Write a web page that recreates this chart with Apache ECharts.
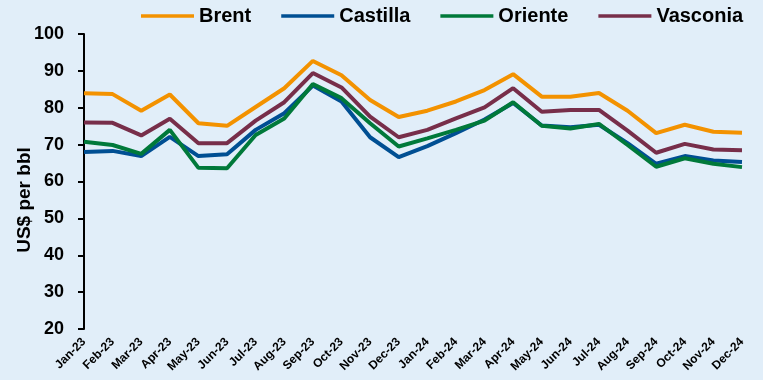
<!DOCTYPE html>
<html>
<head>
<meta charset="utf-8">
<script src="https://cdn.jsdelivr.net/npm/echarts@6/dist/echarts.min.js"></script>
<style>
  html, body { margin: 0; padding: 0; background: #E1EEF9; }
  #chart { width: 763px; height: 380px; }
</style>
</head>
<body>
<div id="chart"></div>
<script>
// Monthly crude prices, US$ per barrel
const months = ['Jan-23','Feb-23','Mar-23','Apr-23','May-23','Jun-23','Jul-23','Aug-23','Sep-23','Oct-23','Nov-23','Dec-23',
                'Jan-24','Feb-24','Mar-24','Apr-24','May-24','Jun-24','Jul-24','Aug-24','Sep-24','Oct-24','Nov-24','Dec-24'];
const brent    = [83.9, 83.7, 79.2, 83.6, 75.8, 75.1, 80.2, 85.3, 92.7, 88.8, 82.1, 77.5, 79.2, 81.7, 84.8, 89.1, 83.0, 83.0, 84.0, 79.2, 73.1, 75.4, 73.5, 73.2];
const castilla = [68.0, 68.3, 66.9, 72.1, 66.9, 67.4, 74.0, 78.5, 86.0, 81.7, 72.0, 66.6, 69.6, 73.1, 76.8, 81.3, 75.2, 74.7, 75.4, 70.4, 64.8, 66.9, 65.7, 65.3];
const oriente  = [70.8, 69.9, 67.5, 74.0, 63.7, 63.6, 72.6, 77.1, 86.4, 82.6, 75.8, 69.5, 71.7, 74.0, 76.5, 81.5, 75.1, 74.4, 75.6, 69.9, 64.0, 66.3, 64.8, 63.9];
const vasconia = [76.0, 75.9, 72.5, 77.0, 70.4, 70.4, 76.5, 81.5, 89.4, 85.5, 77.6, 72.0, 74.0, 77.1, 80.1, 85.3, 78.9, 79.4, 79.4, 73.8, 67.8, 70.2, 68.7, 68.5];

const seriesDefs = [
  { name: 'Brent',    data: brent,    color: '#F39200' },
  { name: 'Castilla', data: castilla, color: '#004F93' },
  { name: 'Oriente',  data: oriente,  color: '#00793A' },
  { name: 'Vasconia', data: vasconia, color: '#772E4A' }
];

const fontFamily = 'Liberation Sans, Arial, sans-serif';

const chart = echarts.init(document.getElementById('chart'), null, { renderer: 'canvas' });
chart.setOption({
  backgroundColor: '#E1EEF9',
  animation: false,
  textStyle: { fontFamily: fontFamily },
  legend: {
    top: 1,
    left: 136,
    itemWidth: 53,
    itemHeight: 3.5,
    itemGap: 30,
    icon: 'rect',
    textStyle: { fontSize: 20, fontWeight: 'bold', color: '#000' },
    data: seriesDefs.map(s => s.name)
  },
  grid: { left: 84, right: 21, top: 34, bottom: 51, containLabel: false },
  xAxis: {
    type: 'category',
    data: months,
    boundaryGap: false,
    axisLine: { show: false },
    axisTick: { show: false },
    axisLabel: {
      interval: 0,
      rotate: 45,
      margin: 11,
      fontSize: 12,
      fontWeight: 'bold',
      color: '#000'
    },
    splitLine: { show: false }
  },
  yAxis: {
    type: 'value',
    min: 20,
    max: 100,
    interval: 10,
    axisLine: { show: true, lineStyle: { color: '#000', width: 2 } },
    axisTick: { show: true, length: 6, lineStyle: { color: '#000', width: 2 } },
    axisLabel: { fontSize: 18, fontWeight: 'bold', color: '#000', margin: 20 },
    splitLine: { show: false }
  },
  graphic: [{
    type: 'text',
    x: 25,
    y: 200,
    rotation: Math.PI / 2,
    style: {
      text: 'US$ per bbl',
      fontSize: 19,
      fontWeight: 'bold',
      fontFamily: fontFamily,
      fill: '#000',
      align: 'center',
      verticalAlign: 'middle'
    }
  }],
  series: seriesDefs.map(s => ({
    name: s.name,
    type: 'line',
    data: s.data,
    symbol: 'none',
    color: s.color,
    lineStyle: { width: 4, color: s.color }
  }))
});
</script>
</body>
</html>
